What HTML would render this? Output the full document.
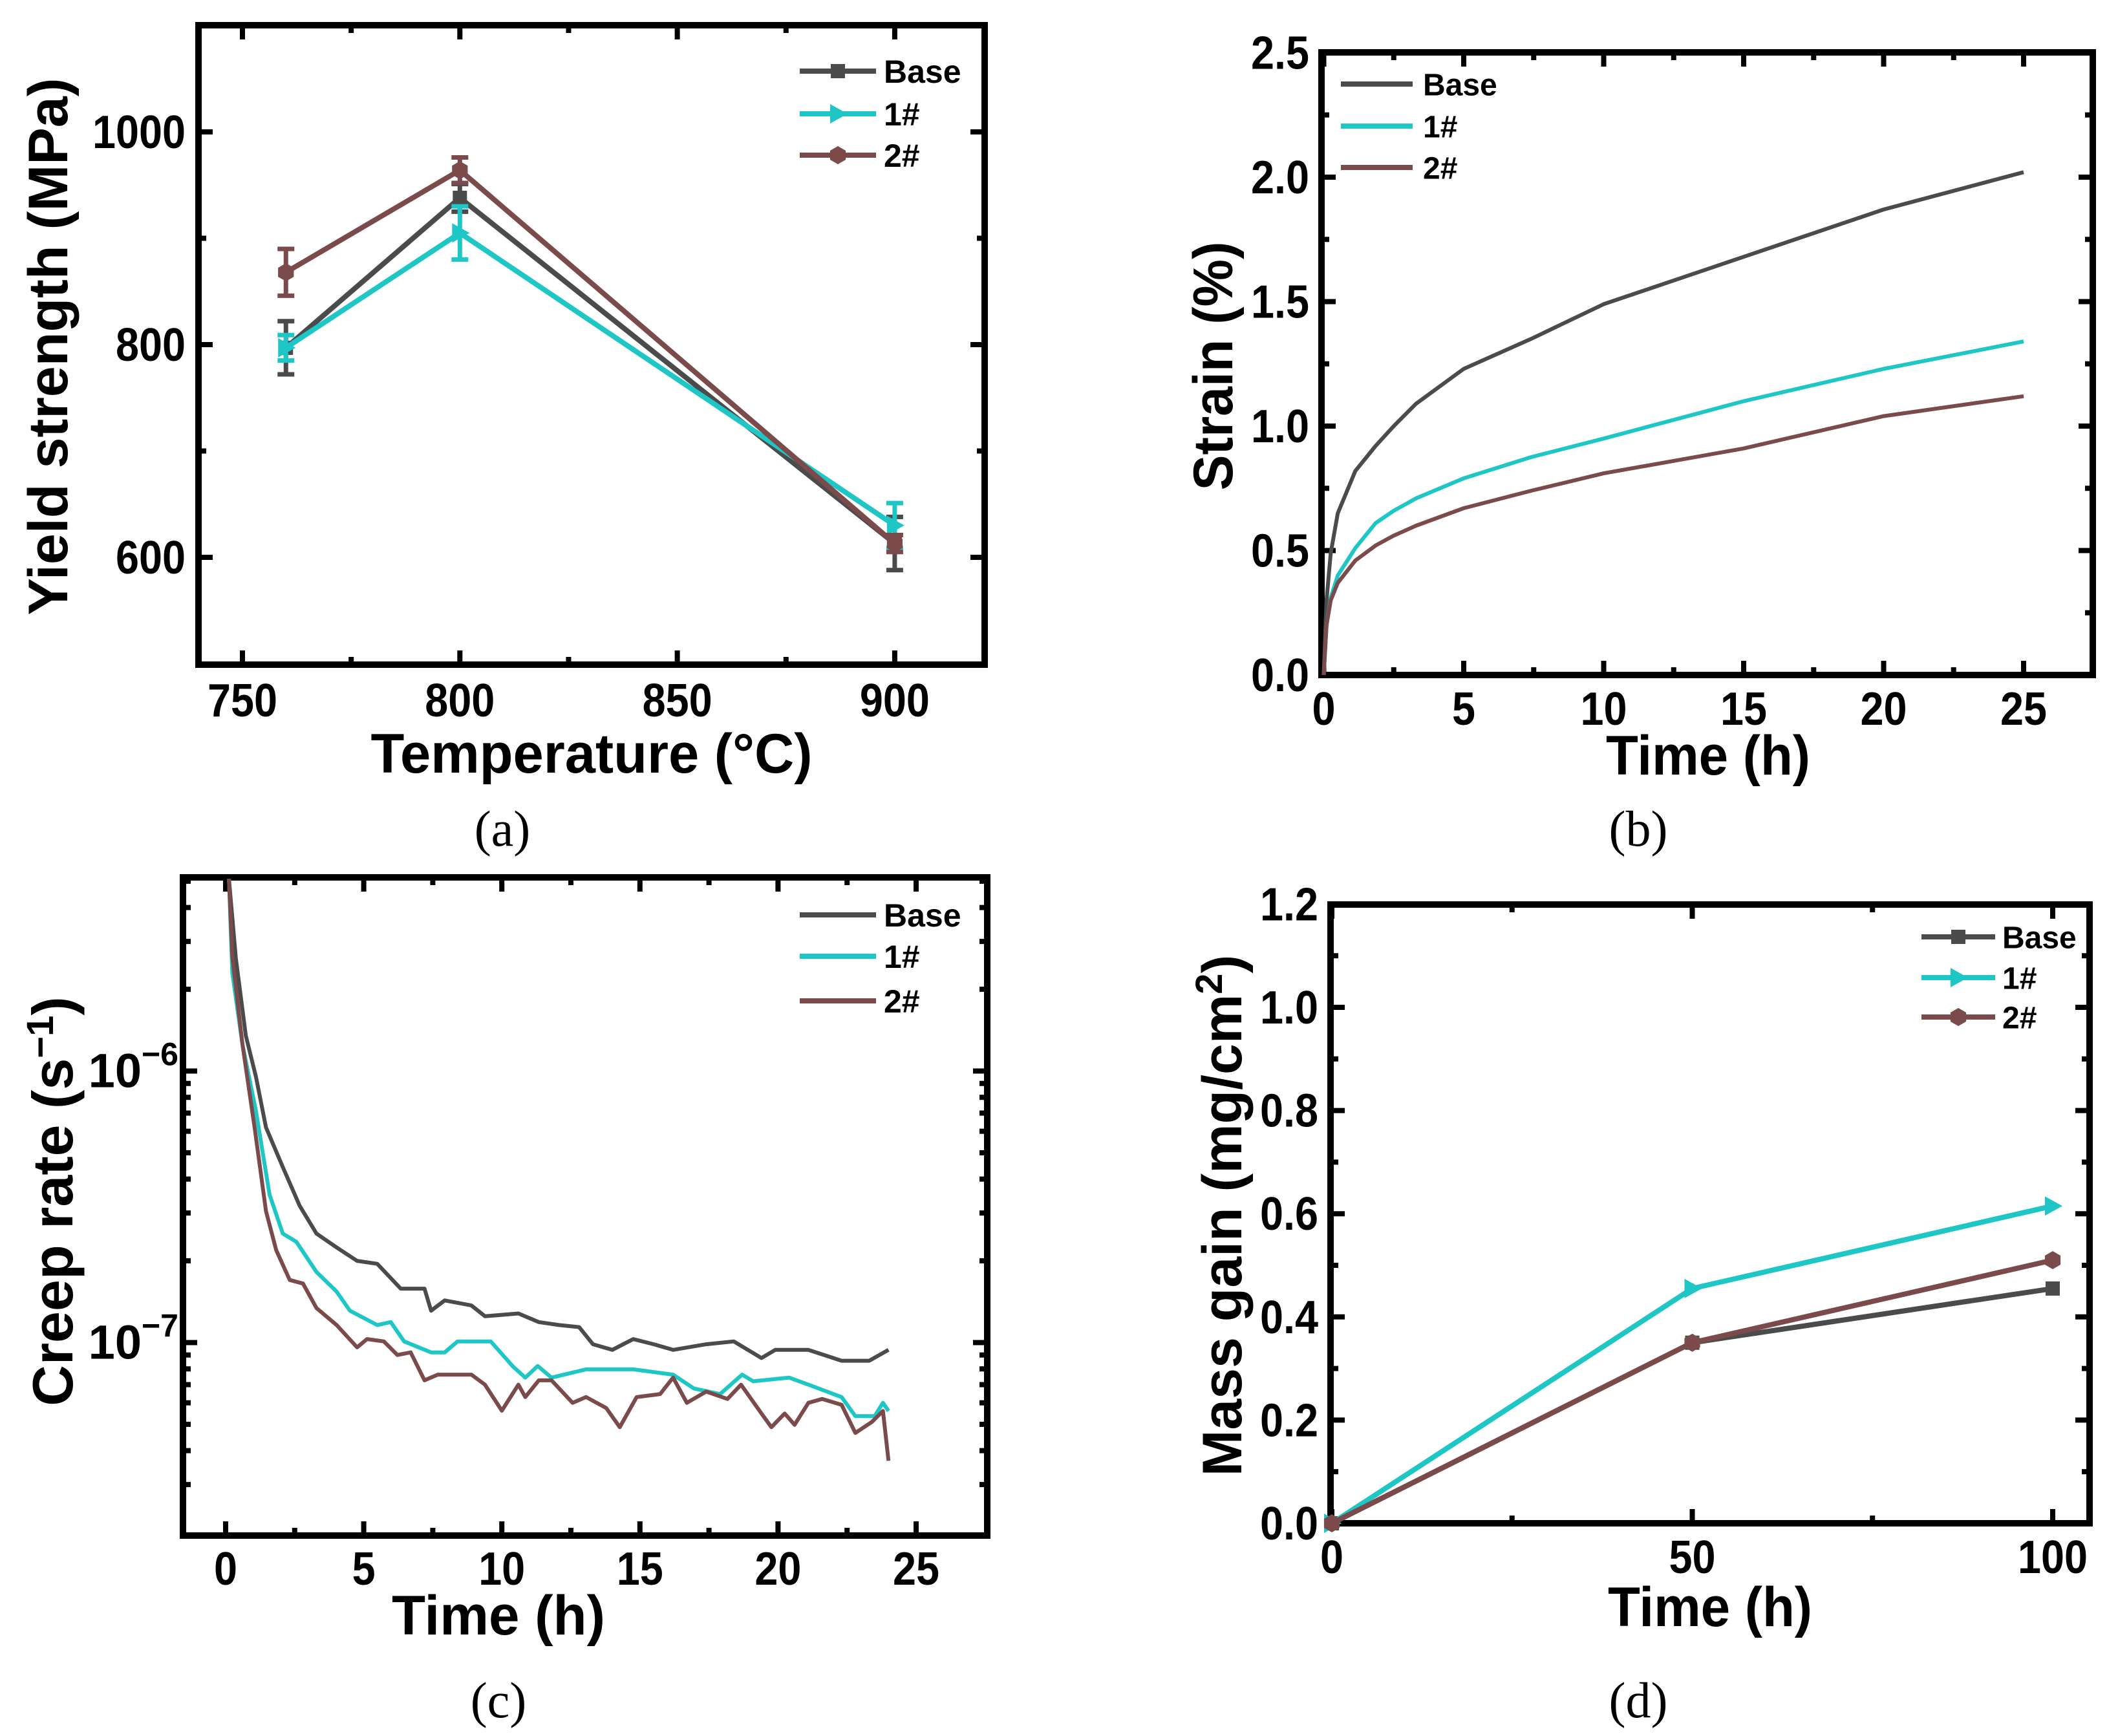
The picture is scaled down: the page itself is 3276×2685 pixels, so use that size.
<!DOCTYPE html>
<html><head><meta charset="utf-8"><style>
html,body{margin:0;padding:0;background:#fff;}
svg{display:block;font-family:"Liberation Sans",Arial,sans-serif;font-weight:bold;}
.cap{font-family:"Liberation Serif",serif;font-weight:normal;}
</style></head><body>
<svg id="fig" width="3276" height="2685" viewBox="0 0 3276 2685">
<defs>
<clipPath id="clipC"><rect x="283" y="1357" width="1244" height="1018"/></clipPath>
</defs>
<rect x="0" y="0" width="3276" height="2685" fill="#fff"/>
<g id="pa"></g>
<g id="pb"></g>
<g id="pc"></g>
<g id="pd"></g>
</svg>
<script>
// ---------- Panel (a) data ----------
const tempsA = [760, 800, 900];
const baseA = [797, 938, 613];
const baseErrA = [25, 13, 25];
const s1A = [797, 905, 630];
const s1ErrA = [12, 25, 21];
const s2A = [868, 964, 613];
const s2ErrA = [22, 12, 8];
const xTicksA = [750, 800, 850, 900];
const yTicksA = [600, 800, 1000];

// ---------- Panel (b) data ----------
const timeB = [0, 0.1, 0.25, 0.5, 1.13, 1.85, 2.5, 3.3, 5, 7.4, 10, 15, 20, 25];
const baseB = [0, 0.3, 0.49, 0.65, 0.82, 0.92, 1.0, 1.09, 1.23, 1.35, 1.49, 1.68, 1.87, 2.02];
const s1B = [0, 0.2, 0.31, 0.4, 0.51, 0.61, 0.66, 0.71, 0.79, 0.875, 0.95, 1.1, 1.23, 1.34];
const s2B = [0, 0.2, 0.3, 0.37, 0.46, 0.52, 0.56, 0.6, 0.67, 0.74, 0.81, 0.91, 1.04, 1.12];
const xTicksB = [0, 5, 10, 15, 20, 25];
const yTicksB = [0, 0.5, 1.0, 1.5, 2.0, 2.5];

// ---------- Panel (c) data ----------
const baseTimeC = [0.12,0.37,0.73,1.1,1.46,2.07,2.68,3.29,4.02,4.76,5.49,6.34,7.2,7.44,7.93,8.9,9.39,10.6,11.34,12.07,12.8,13.3,14.0,14.76,15.5,16.2,17.4,18.4,19.4,19.9,21.1,22.3,23.3,24.0];
const baseRateC = [5.1e-6,2.6e-6,1.35e-6,9.5e-7,6.2e-7,4.43e-7,3.19e-7,2.52e-7,2.24e-7,2.0e-7,1.95e-7,1.58e-7,1.58e-7,1.31e-7,1.43e-7,1.37e-7,1.25e-7,1.28e-7,1.19e-7,1.16e-7,1.14e-7,9.86e-8,9.4e-8,1.03e-7,9.86e-8,9.4e-8,9.86e-8,1.01e-7,8.77e-8,9.4e-8,9.4e-8,8.57e-8,8.57e-8,9.4e-8];
const s1TimeC = [0.12,0.24,0.61,1.1,1.59,2.07,2.56,3.29,4.02,4.5,5.49,5.98,6.46,7.44,7.93,8.4,9.15,9.6,10.4,10.85,11.3,11.8,13.05,14.76,16.2,16.95,17.9,18.7,19.1,20.4,21.1,22.3,22.8,23.5,23.8,24.0];
const s1RateC = [5.1e-6,2.3e-6,1.25e-6,7.1e-7,3.51e-7,2.52e-7,2.35e-7,1.82e-7,1.54e-7,1.31e-7,1.16e-7,1.19e-7,1.01e-7,9.2e-8,9.2e-8,1.01e-7,1.01e-7,1.01e-7,8.17e-8,7.43e-8,8.2e-8,7.43e-8,7.97e-8,7.97e-8,7.62e-8,6.78e-8,6.46e-8,7.62e-8,7.2e-8,7.43e-8,7.0e-8,6.3e-8,5.36e-8,5.36e-8,6.0e-8,5.6e-8];
const s2TimeC = [0.12,0.24,0.61,1.05,1.46,1.83,2.32,2.8,3.29,4.02,4.76,5.12,5.73,6.22,6.7,7.2,7.68,8.9,9.39,10.0,10.6,10.85,11.34,11.8,12.56,13.05,13.78,14.27,14.88,15.73,16.2,16.7,17.4,18.17,18.66,19.4,19.76,20.24,20.6,21.1,21.6,22.3,22.8,23.4,23.8,24.0];
const s2RateC = [5.1e-6,2.64e-6,1.25e-6,6.17e-7,3.05e-7,2.19e-7,1.7e-7,1.65e-7,1.34e-7,1.16e-7,9.6e-8,1.03e-7,1.01e-7,9.0e-8,9.2e-8,7.26e-8,7.62e-8,7.62e-8,7.0e-8,5.61e-8,7.0e-8,6.3e-8,7.26e-8,7.26e-8,6.0e-8,6.3e-8,5.74e-8,4.88e-8,6.3e-8,6.46e-8,7.43e-8,6.0e-8,6.6e-8,6.2e-8,7.0e-8,5.48e-8,4.88e-8,5.48e-8,4.98e-8,6.0e-8,6.2e-8,5.9e-8,4.65e-8,5.1e-8,5.6e-8,3.67e-8];
const xTicksC = [0, 5, 10, 15, 20, 25];
const yExpC = [-6, -7];

// ---------- Panel (d) data ----------
const timeD = [0, 50, 100];
const baseD = [0, 0.35, 0.455];
const s1D = [0, 0.455, 0.615];
const s2D = [0, 0.35, 0.51];
const xTicksD = [0, 50, 100];
const yTicksD = [0, 0.2, 0.4, 0.6, 0.8, 1.0, 1.2];

const C_BASE = '#4b4b4b', C_1 = '#1ec6c6', C_2 = '#7a4b4a';

function add(parent, tag, attrs) {
  parent.insertAdjacentHTML('beforeend', '<' + tag + '></' + tag + '>');
  const el = parent.lastElementChild;
  for (const k in attrs) el.setAttribute(k, attrs[k]);
  return el;
}

function frame(g, x0, y0, x1, y1) {
  const el = add(g, 'rect', {x: x0, y: y0, width: x1 - x0, height: y1 - y0, fill: 'none', stroke: '#000', 'stroke-width': 10});
  
  
}
function xTick(g, x, y0, y1, len, name) {
  let el = add(g, 'line', {x1: x, x2: x, y1: y1, y2: y1 - len, stroke: '#000', 'stroke-width': 8});
  
  
  el = add(g, 'line', {x1: x, x2: x, y1: y0, y2: y0 + len, stroke: '#000', 'stroke-width': 8});
  
  
}
function yTick(g, y, x0, x1, len, name) {
  let el = add(g, 'line', {x1: x0, x2: x0 + len, y1: y, y2: y, stroke: '#000', 'stroke-width': 8});
  
  
  el = add(g, 'line', {x1: x1, x2: x1 - len, y1: y, y2: y, stroke: '#000', 'stroke-width': 8});
  
  
}
function label(g, x, y, txt, size, anchor, name, extra) {
  const a = {x: x, y: y, 'font-size': size, 'text-anchor': anchor, fill: '#000'};
  if (extra) for (const k in extra) a[k] = extra[k];
  const el = add(g, 'text', a);
  el.textContent = txt;
  
  
  return el;
}
function tickLabel(g, x, y, txt, anchor, name) {
  let w = 0;
  for (const ch of txt) w += (ch === '.') ? 18 : 36;
  return label(g, x, y, txt, 72, anchor, name, {textLength: w, lengthAdjust: 'spacingAndGlyphs'});
}
function polyline(g, pts, color, w, name) {
  const el = add(g, 'polyline', {points: pts.map(p => p[0].toFixed(1) + ',' + p[1].toFixed(1)).join(' '), fill: 'none', stroke: color, 'stroke-width': w, 'stroke-linejoin': 'round'});
  
  
  return el;
}
function marker(g, type, x, y, color, name) {
  let el;
  if (type === 'sq') {
    el = add(g, 'rect', {x: x - 11, y: y - 11, width: 22, height: 22, fill: color});
  } else if (type === 'tri') {
    el = add(g, 'polygon', {points: (x - 12) + ',' + (y - 15) + ' ' + (x + 15) + ',' + y + ' ' + (x - 12) + ',' + (y + 15), fill: color});
  } else {
    const p = [];
    for (let i = 0; i < 6; i++) { const a = Math.PI / 3 * i - Math.PI / 2; p.push((x + 14 * Math.cos(a)).toFixed(1) + ',' + (y + 14 * Math.sin(a)).toFixed(1)); }
    el = add(g, 'polygon', {points: p.join(' '), fill: color});
  }
  
  
}
function legendEntry(g, x0, x1, y, tx, txt, color, mk, size, name) {
  const gg = add(g, 'g', {});
  
  
  polyline(gg, [[x0, y], [x1, y]], color, 8, name + '-line');
  if (mk) marker(gg, mk, (x0 + x1) / 2, y, color, name + '-marker');
  label(gg, tx, y + size * 0.36, txt, size, 'start', name + '-text');
}

// ================= Panel A =================
(function () {
  const g = document.getElementById('pa');
  const X0 = 307, X1 = 1523, Y0 = 39, Y1 = 1028;
  const xs = v => 375 + (v - 750) * 336.3 / 50;
  const ys = v => 204 + (1000 - v) * 329 / 200;
  frame(g, X0, Y0, X1, Y1);
  xTicksA.forEach(v => { xTick(g, xs(v), Y0, Y1, 22, 'x-tick-' + v); tickLabel(g, xs(v), 1108, String(v), 'middle', 'x-tick-label-' + v); });
  [775, 825, 875].forEach(v => xTick(g, xs(v), Y0, Y1, 12, 'x-minor-tick'));
  yTicksA.forEach(v => { yTick(g, ys(v), X0, X1, 22, 'y-tick-' + v); tickLabel(g, 287, ys(v) + 25, String(v), 'end', 'y-tick-label-' + v); });
  [700, 900].forEach(v => yTick(g, ys(v), X0, X1, 12, 'y-minor-tick'));
  label(g, 915, 1195, 'Temperature (°C)', 86, 'middle', 'x-axis-title', {textLength: 683, lengthAdjust: 'spacingAndGlyphs'});
  label(g, 104, 536, 'Yield strength (MPa)', 86, 'middle', 'y-axis-title', {transform: 'rotate(-90 104 536)', textLength: 831, lengthAdjust: 'spacingAndGlyphs'});
  label(g, 777, 1308, '(a)', 78, 'middle', 'caption-a', {class: 'cap'});
  const series = [[baseA, baseErrA, C_BASE, 'sq', 'base'], [s1A, s1ErrA, C_1, 'tri', '1'], [s2A, s2ErrA, C_2, 'hex', '2']];
  series.forEach(s => {
    const sg = add(g, 'g', {});
    
    
    polyline(sg, tempsA.map((t, i) => [xs(t), ys(s[0][i])]), s[2], 8, 'line-' + s[4]);
    tempsA.forEach((t, i) => {
      const x = xs(t), yt = ys(s[0][i] + s[1][i]), yb = ys(s[0][i] - s[1][i]);
      let el = add(sg, 'path', {d: 'M' + x + ',' + yt + 'V' + yb + 'M' + (x - 13) + ',' + yt + 'H' + (x + 13) + 'M' + (x - 13) + ',' + yb + 'H' + (x + 13), stroke: s[2], 'stroke-width': 7, fill: 'none'});
      
      
      marker(sg, s[3], x, ys(s[0][i]), s[2], 'point-' + s[4] + '-' + t);
    });
  });
  legendEntry(g, 1237, 1355, 110, 1367, 'Base', C_BASE, 'sq', 50, 'legend-base');
  legendEntry(g, 1237, 1355, 176, 1367, '1#', C_1, 'tri', 50, 'legend-1');
  legendEntry(g, 1237, 1355, 240, 1367, '2#', C_2, 'hex', 50, 'legend-2');
})();

// ================= Panel B =================
(function () {
  const g = document.getElementById('pb');
  const X0 = 2044, X1 = 3237, Y0 = 81, Y1 = 1044;
  const xs = v => 2047.5 + v * 216.5 / 5;
  const ys = v => 1044 - v * 385;
  frame(g, X0, Y0, X1, Y1);
  xTicksB.forEach(v => { xTick(g, xs(v), Y0, Y1, 22, 'x-tick-' + v); tickLabel(g, xs(v), 1121, String(v), 'middle', 'x-tick-label-' + v); });
  [2.5, 7.5, 12.5, 17.5, 22.5].forEach(v => xTick(g, xs(v), Y0, Y1, 12, 'x-minor-tick'));
  yTicksB.forEach(v => { yTick(g, ys(v), X0, X1, 22, 'y-tick-' + v); tickLabel(g, 2025, ys(v) + 25, v.toFixed(1), 'end', 'y-tick-label-' + v); });
  [0.25, 0.75, 1.25, 1.75, 2.25].forEach(v => yTick(g, ys(v), X0, X1, 12, 'y-minor-tick'));
  label(g, 2642, 1198, 'Time (h)', 86, 'middle', 'x-axis-title', {textLength: 316, lengthAdjust: 'spacingAndGlyphs'});
  label(g, 1906, 566, 'Strain (%)', 86, 'middle', 'y-axis-title', {transform: 'rotate(-90 1906 566)', textLength: 385, lengthAdjust: 'spacingAndGlyphs'});
  label(g, 2534, 1308, '(b)', 78, 'middle', 'caption-b', {class: 'cap'});
  polyline(g, timeB.map((t, i) => [xs(t), ys(baseB[i])]), C_BASE, 6, 'curve-base');
  polyline(g, timeB.map((t, i) => [xs(t), ys(s1B[i])]), C_1, 6, 'curve-1');
  polyline(g, timeB.map((t, i) => [xs(t), ys(s2B[i])]), C_2, 6, 'curve-2');
  legendEntry(g, 2074, 2185, 130, 2201, 'Base', C_BASE, null, 48, 'legend-base');
  legendEntry(g, 2074, 2185, 195, 2201, '1#', C_1, null, 48, 'legend-1');
  legendEntry(g, 2074, 2185, 259, 2201, '2#', C_2, null, 48, 'legend-2');
})();

// ================= Panel C =================
(function () {
  const g = document.getElementById('pc');
  const X0 = 283, X1 = 1527, Y0 = 1357, Y1 = 2375;
  const xs = v => 349 + v * 213.6 / 5;
  const ys = v => 1656.5 + (-6 - Math.log10(v)) * 420;
  frame(g, X0, Y0, X1, Y1);
  xTicksC.forEach(v => { xTick(g, xs(v), Y0, Y1, 22, 'x-tick-' + v); tickLabel(g, xs(v), 2451, String(v), 'middle', 'x-tick-label-' + v); });
  [2.5, 7.5, 12.5, 17.5, 22.5].forEach(v => xTick(g, xs(v), Y0, Y1, 12, 'x-minor-tick'));
  yExpC.forEach(e => {
    const y = ys(Math.pow(10, e));
    yTick(g, y, X0, X1, 22, 'y-tick-1e' + e);
    const t = label(g, 276, y + 25, '10', 74, 'end', 'y-tick-label-1e' + e);
    const sp = add(t, 'tspan', {dy: -34, 'font-size': 50});
    sp.textContent = '−' + (-e);
    
    
  });
  [2e-8, 2e-7, 3e-7, 4e-7, 5e-7, 6e-7, 7e-7, 8e-7, 9e-7, 3e-8, 4e-8, 5e-8, 6e-8, 7e-8, 8e-8, 9e-8, 2e-6, 3e-6, 4e-6, 5e-6].forEach(v => {
    const y = ys(v);
    if (y > Y0 + 5 && y < Y1 - 5) yTick(g, y, X0, X1, 12, 'y-minor-tick');
  });
  label(g, 771, 2528, 'Time (h)', 86, 'middle', 'x-axis-title', {textLength: 330, lengthAdjust: 'spacingAndGlyphs'});
  const yt = label(g, 112, 1858, 'Creep rate (s', 88, 'middle', 'y-axis-title', {transform: 'rotate(-90 112 1858)'});
  const sup = add(yt, 'tspan', {dy: -30, 'font-size': 58});
  sup.textContent = '−1';
  
  
  const cl = add(yt, 'tspan', {dy: 30});
  cl.textContent = ')';
  
  
  label(g, 771, 2656, '(c)', 78, 'middle', 'caption-c', {class: 'cap'});
  const cg = add(g, 'g', {'clip-path': 'url(#clipC)'});
  
  
  polyline(cg, baseTimeC.map((t, i) => [xs(t), ys(baseRateC[i])]), C_BASE, 6, 'curve-base');
  polyline(cg, s1TimeC.map((t, i) => [xs(t), ys(s1RateC[i])]), C_1, 6, 'curve-1');
  polyline(cg, s2TimeC.map((t, i) => [xs(t), ys(s2RateC[i])]), C_2, 6, 'curve-2');
  legendEntry(g, 1237, 1355, 1415, 1367, 'Base', C_BASE, null, 50, 'legend-base');
  legendEntry(g, 1237, 1355, 1479, 1367, '1#', C_1, null, 50, 'legend-1');
  legendEntry(g, 1237, 1355, 1548, 1367, '2#', C_2, null, 50, 'legend-2');
})();

// ================= Panel D =================
(function () {
  const g = document.getElementById('pd');
  const X0 = 2058, X1 = 3232, Y0 = 1399, Y1 = 2356;
  const xs = v => 2060 + v * 557.5 / 50;
  const ys = v => 2356 - v * 798;
  frame(g, X0, Y0, X1, Y1);
  xTicksD.forEach(v => { xTick(g, xs(v), Y0, Y1, 22, 'x-tick-' + v); tickLabel(g, xs(v), 2433, String(v), 'middle', 'x-tick-label-' + v); });
  [25, 75].forEach(v => xTick(g, xs(v), Y0, Y1, 12, 'x-minor-tick'));
  yTicksD.forEach(v => { yTick(g, ys(v), X0, X1, 22, 'y-tick-' + v); tickLabel(g, 2039, ys(v) + 25, v.toFixed(1), 'end', 'y-tick-label-' + v); });
  [0.1, 0.3, 0.5, 0.7, 0.9, 1.1].forEach(v => yTick(g, ys(v), X0, X1, 12, 'y-minor-tick'));
  label(g, 2645, 2515, 'Time (h)', 86, 'middle', 'x-axis-title', {textLength: 316, lengthAdjust: 'spacingAndGlyphs'});
  const yt = label(g, 1920, 1880, 'Mass gain (mg/cm', 86, 'middle', 'y-axis-title', {transform: 'rotate(-90 1920 1880)'});
  const sup = add(yt, 'tspan', {dy: -30, 'font-size': 58});
  sup.textContent = '2';
  
  
  const cl = add(yt, 'tspan', {dy: 30});
  cl.textContent = ')';
  
  
  label(g, 2534, 2656, '(d)', 78, 'middle', 'caption-d', {class: 'cap'});
  const series = [[baseD, C_BASE, 'sq', 'base'], [s1D, C_1, 'tri', '1'], [s2D, C_2, 'hex', '2']];
  series.forEach(s => {
    const sg = add(g, 'g', {});
    
    
    polyline(sg, timeD.map((t, i) => [xs(t), ys(s[0][i])]), s[1], 8, 'line-' + s[3]);
    timeD.forEach((t, i) => marker(sg, s[2], xs(t), ys(s[0][i]), s[1], 'point-' + s[3] + '-' + t));
  });
  legendEntry(g, 2972, 3086, 1449, 3097, 'Base', C_BASE, 'sq', 48, 'legend-base');
  legendEntry(g, 2972, 3086, 1512, 3097, '1#', C_1, 'tri', 48, 'legend-1');
  legendEntry(g, 2972, 3086, 1573, 3097, '2#', C_2, 'hex', 48, 'legend-2');
})();
</script>
</body></html>
